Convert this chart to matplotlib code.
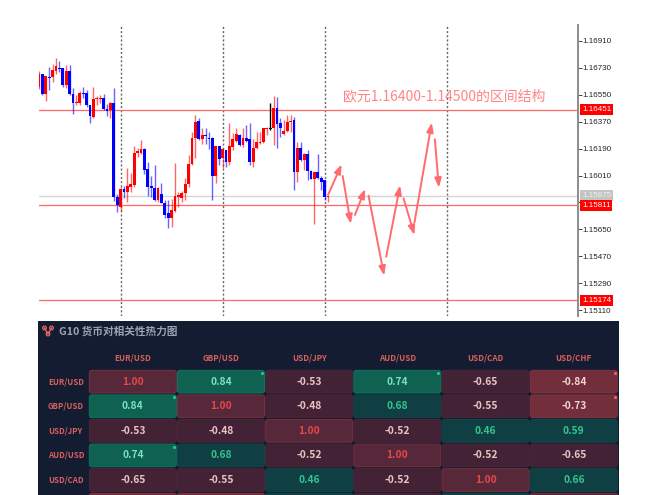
import matplotlib
matplotlib.use("Agg")
import matplotlib.pyplot as plt
from matplotlib.patches import FancyBboxPatch
import numpy as np

plt.rcParams['font.family'] = ['Noto Sans CJK SC', 'DejaVu Sans']

# candles, in 1e-5 price points
opens = [116600, 116689, 116556, 116669, 116667, 116712, 116727, 116732, 116616, 116712,
         116556, 116493, 116493, 116565, 116560, 116482, 116404, 116520, 116522, 116529,
         116453, 116449, 116493, 115864, 115802, 115918, 115902, 115936, 115947, 116163,
         116159, 116185, 116052, 115940, 115925, 115846, 115887, 115829, 115757, 115724,
         115775, 115869, 115858, 115891, 115951, 116085, 116259, 116375, 116255, 116281,
         116264, 116259, 116009, 116208, 116125, 116181, 116103, 116203, 116241, 116281,
         116215, 116264, 116253, 116099, 116192, 116226, 116237, 116324, 116324, 116326,
         116464, 116360, 116286, 116308, 116366, 116380, 116032, 116197, 116114, 116152,
         116041, 115985, 116032, 115996, 115980, 115864]
closes = [116689, 116556, 116676, 116663, 116716, 116745, 116723, 116616, 116712, 116556,
          116493, 116504, 116565, 116558, 116482, 116408, 116520, 116527, 116529, 116453,
          116444, 116493, 115864, 115813, 115918, 115902, 115940, 115954, 116163, 116177,
          116185, 116047, 115936, 115925, 115846, 115927, 115829, 115746, 115728, 115780,
          115873, 115878, 115896, 115951, 116085, 116259, 116366, 116255, 116281, 116275,
          116253, 116009, 116208, 116121, 116188, 116103, 116210, 116253, 116286, 116215,
          116264, 116244, 116099, 116192, 116237, 116237, 116326, 116331, 116324, 116460,
          116355, 116331, 116308, 116366, 116375, 116036, 116197, 116114, 116152, 116041,
          115985, 116032, 115996, 115969, 115869, 115873]
highs = [116712, 116689, 116676, 116738, 116756, 116794, 116776, 116732, 116750, 116750,
         116594, 116549, 116578, 116600, 116582, 116482, 116600, 116542, 116549, 116556,
         116489, 116504, 116594, 115887, 115931, 115940, 116058, 116025, 116208, 116192,
         116248, 116192, 116103, 116007, 116081, 115936, 115962, 115846, 115846, 115851,
         116092, 115902, 115907, 115996, 116148, 116304, 116415, 116393, 116326, 116331,
         116304, 116270, 116208, 116208, 116197, 116181, 116360, 116293, 116331, 116286,
         116326, 116348, 116360, 116253, 116304, 116304, 116331, 116337, 116493, 116542,
         116538, 116393, 116382, 116415, 116415, 116404, 116232, 116232, 116159, 116181,
         116047, 116032, 116154, 116009, 115980, 115873]
lows = [116587, 116547, 116511, 116582, 116638, 116689, 116705, 116605, 116594, 116549,
        116420, 116482, 116482, 116527, 116471, 116364, 116393, 116482, 116493, 116449,
        116408, 116393, 115842, 115768, 115775, 115858, 115835, 115902, 115936, 116136,
        116154, 116020, 115873, 115869, 115842, 115835, 115824, 115724, 115657, 115664,
        115768, 115802, 115831, 115847, 115936, 116081, 116130, 116248, 116219, 116219,
        116188, 115847, 115958, 116081, 116063, 116070, 116081, 116181, 116232, 116210,
        116203, 116237, 116081, 116070, 116188, 116219, 116226, 116281, 116315, 116215,
        116192, 116270, 116281, 116304, 116304, 115914, 115969, 116108, 116047, 115980,
        115985, 115686, 115985, 115914, 115847, 115831]

tick_prices = [1.16910, 1.16730, 1.16550, 1.16370, 1.16190, 1.16010, 1.15830,
               1.15650, 1.15470, 1.15290, 1.15110]
red_levels = [1.16451, 1.15811, 1.15174]
grey_level = 1.15875
session_bars = [24.1, 54.1, 84.1, 120]

# forecast path: start bar, start price, end bar, end price
arrow_x0 = [85.0, 89.3, 92.9, 96.9, 102.1, 107.2, 110.4, 116.4]
arrow_y0 = [1.15880, 1.16007, 1.15746, 1.15875, 1.15467, 1.15857, 1.15695, 1.16252]
arrow_x1 = [89.0, 91.7, 95.9, 101.5, 106.2, 110.4, 115.5, 117.6]
arrow_y1 = [1.16085, 1.15686, 1.15920, 1.15340, 1.15944, 1.15612, 1.16364, 1.15929]

pairs = ["EUR/USD", "GBP/USD", "USD/JPY", "AUD/USD", "USD/CAD", "USD/CHF"]
corr = [[1.00, 0.84, -0.53, 0.74, -0.65, -0.84],
        [0.84, 1.00, -0.48, 0.68, -0.55, -0.73],
        [-0.53, -0.48, 1.00, -0.52, 0.46, 0.59],
        [0.74, 0.68, -0.52, 1.00, -0.52, -0.65],
        [-0.65, -0.55, 0.46, -0.52, 1.00, 0.66],
        [-0.84, -0.73, 0.59, -0.65, 0.66, 1.00]]

W, H = 669, 495
fig = plt.figure(figsize=(W / 100, H / 100), dpi=100, facecolor="white")


def px_axes(left, top, right, bottom):
    return fig.add_axes([left / W, 1 - bottom / H, (right - left) / W, (bottom - top) / H])


# price chart
ax = px_axes(39, 25, 578, 316)
ax.set_xlim(0, 158.5)
ax.set_ylim(1.15070, 1.17017)
ax.patch.set_alpha(0)
for s in ["top", "left", "bottom"]:
    ax.spines[s].set_visible(False)
ax.spines["right"].set_color("#8c8c8c")
ax.spines["right"].set_linewidth(1.4)
ax.set_xticks([])
ax.yaxis.tick_right()
ax.set_yticks(tick_prices)
ax.set_yticklabels([f"{p:.5f}" for p in tick_prices], family="Liberation Sans", fontsize=5.8, color="#222222")
ax.tick_params(axis="y", length=3, width=0.7, color="#444444", pad=0)

for x in session_bars:
    ax.axvline(x, color="#666666", lw=1.0, ls=(0, (1.5, 1.5)), zorder=1)
for lv in red_levels:
    ax.axhline(lv, color="#ff6666", lw=0.9, zorder=2)
ax.axhline(grey_level, color="#d6d6d6", lw=1.0, zorder=2)

o = np.array(opens) / 1e5
c = np.array(closes) / 1e5
hi = np.array(highs) / 1e5
lo = np.array(lows) / 1e5
xs = np.arange(len(o))
cols = ["#ff0000" if b > a else "#0000ff" if b < a else "#000000" for a, b in zip(o, c)]
for i in xs:
    ax.vlines(i, lo[i], hi[i], color=cols[i], lw=1.0, alpha=1 if cols[i] == "#000000" else 0.6, zorder=3)
ax.bar(xs, np.maximum(np.abs(c - o), 0.00003), bottom=np.minimum(o, c), width=0.85, color=cols, zorder=4)

for x0, y0, x1, y1 in zip(arrow_x0, arrow_y0, arrow_x1, arrow_y1):
    ax.annotate("", xy=(x1, y1), xytext=(x0, y0),
                arrowprops=dict(arrowstyle="-|>,head_length=0.55,head_width=0.2", color="#ff6b70",
                                lw=1.4, shrinkA=0, shrinkB=0), zorder=5)

ax.text(89.3, 1.16536, "欧元1.16400-1.14500的区间结构", fontsize=10, color="#ff8488", va="center", ha="left", zorder=6)

tag_tf = ax.get_yaxis_transform()
for lv in red_levels:
    ax.text(1.0075, lv, f"{lv:.5f}", transform=tag_tf, family="Liberation Sans", fontsize=5.8, color="white",
            va="center", ha="left", zorder=7, clip_on=False,
            bbox=dict(facecolor="#ff0000", edgecolor="none", pad=1.3))
ax.text(1.0075, grey_level, f"{grey_level:.5f}", transform=tag_tf, family="Liberation Sans", fontsize=5.8,
        color="#f0f0f0", va="center", ha="left", zorder=6, clip_on=False,
        bbox=dict(facecolor="#c4c4c4", edgecolor="none", pad=1.3))

# heatmap panel, units are pixels from the panel corner
panel = px_axes(38, 321, 619, 495)
panel.set_xlim(0, 581)
panel.set_ylim(174, 0)
panel.set_facecolor("#131c30")
panel.set_xticks([])
panel.set_yticks([])
for s in panel.spines.values():
    s.set_visible(False)

# small network icon left of the title
panel.plot([6.5, 10, 13.5], [7, 13, 7], color="#e8686a", lw=0.9)
panel.scatter([6.5, 13.5, 10], [7, 7, 13], s=7, facecolor="none", edgecolor="#e8686a", lw=0.9)
panel.text(21, 10, "G10 货币对相关性热力图", fontsize=7.7, fontweight="bold", color="#9aa5b4", va="center")

pitch_x, pitch_y = 88.2, 24.6
cell_w, cell_h = 87, 22.7
x0, y0 = 51.3, 49.3


def cell_style(v):
    if v >= 0.995:
        return "#57283a", "#7c3038", "#e4484c", None
    if v >= 0.7:
        return "#0f6152", "#11735f", "#7be3bf", "#25c990"
    if v >= 0:
        return "#0f3f42", "#10484a", "#35c48f", None
    if v <= -0.7:
        return "#722f3b", "#85343f", "#f2d4d4", "#f0605f"
    return "#432235", "#4c2638", "#eac4c4", None


for j, name in enumerate(pairs):
    panel.text(x0 + j * pitch_x + cell_w / 2, 37, name, fontsize=5.8, fontweight="bold", color="#d9605f",
               ha="center", va="center")
for i, name in enumerate(pairs):
    # last row runs off the bottom of the picture, only its top edge shows
    visible = y0 + i * pitch_y + cell_h / 2 < 174
    if visible:
        panel.text(10, y0 + i * pitch_y + cell_h / 2, name, fontsize=5.7, fontweight="bold", color="#d9605f",
                   ha="left", va="center")
    for j in range(len(pairs)):
        v = corr[i][j]
        fc, ec, tc, dot = cell_style(v)
        cx, cy = x0 + j * pitch_x, y0 + i * pitch_y
        panel.add_patch(FancyBboxPatch((cx + 1.5, cy + 1.5), cell_w - 3, cell_h - 3,
                                       boxstyle="round,pad=1.5,rounding_size=2.5",
                                       facecolor=fc, edgecolor=ec, lw=0.7))
        if visible:
            panel.text(cx + cell_w / 2, cy + cell_h / 2, f"{v:.2f}", fontsize=7.4, fontweight="bold", color=tc,
                       ha="center", va="center")
            if dot:
                panel.scatter([cx + cell_w - 2.5], [cy + 2.5], s=5, color=dot, lw=0, zorder=5)

fig.savefig("out.png", dpi=100)
